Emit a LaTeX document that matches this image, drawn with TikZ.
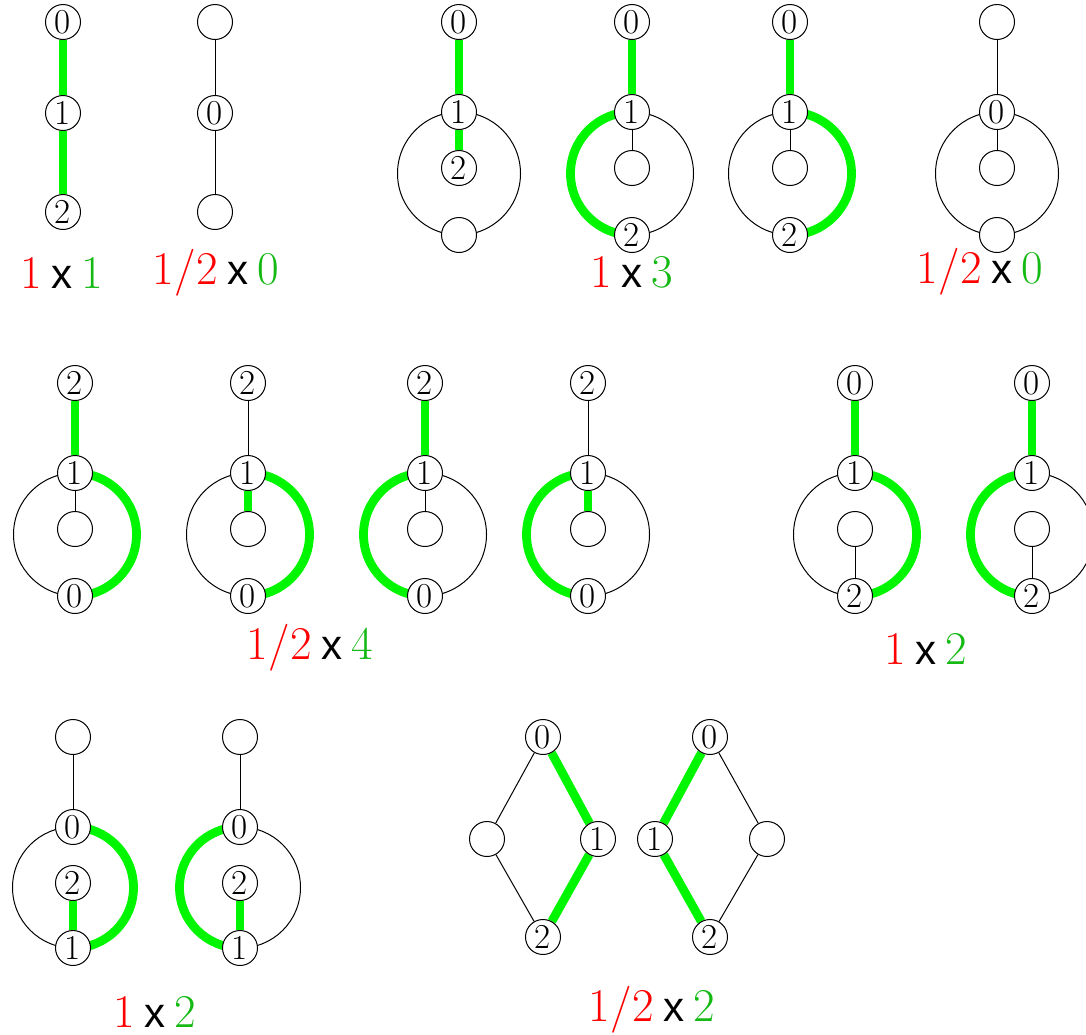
\documentclass[tikz,border=0pt]{standalone}
\usepackage{fontspec}
\newfontfamily\crossfont{Liberation Sans}
\usetikzlibrary{backgrounds}

\definecolor{hotgreen}{RGB}{0,245,0}
\definecolor{wtgreen}{RGB}{20,185,20}

% weight x count
\newcommand{\wt}[2]{\textcolor{red}{#1}\hspace{0.2em}{\crossfont\fontsize{21}{21}\selectfont x}\hspace{0.2em}\textcolor{wtgreen}{#2}}

\tikzset{
  vtx/.style={circle, draw, fill=white, line width=0.5pt, minimum size=17.5pt, inner sep=0pt, font=\fontsize{17.5}{17.5}\selectfont},
  cold/.style={draw=black, line width=0.5pt},
  hot/.style={draw=hotgreen, line width=4.4pt},
  wtlbl/.style={font=\fontsize{23.5}{23.5}\selectfont, inner sep=0pt}
}

\begin{document}
\begin{tikzpicture}[x=0.5pt, y=0.5pt]
  \useasboundingbox (0,0) rectangle (1086,-1034);

  % first row
  \begin{scope}[shift={(63,-22)}]
    \node[vtx] (At) at (0,0)    {0};
    \node[vtx] (Am) at (0,-91)  {1};
    \node[vtx] (Ab) at (0,-190) {2};
    \path (At) edge[hot] (Am) (Am) edge[hot] (Ab);
  \end{scope}
  \begin{scope}[shift={(215,-22)}]
    \node[vtx] (Bt) at (0,0)    {};
    \node[vtx] (Bm) at (0,-91)  {0};
    \node[vtx] (Bb) at (0,-190) {};
    \path (Bt) edge[cold] (Bm) (Bm) edge[cold] (Bb);
  \end{scope}
  \begin{scope}[shift={(459,-22)}]
    \node[vtx] (Ct) at (0,0)    {0};
    \node[vtx] (Cm) at (0,-90)  {1};
    \node[vtx] (Ci) at (0,-146) {2};
    \node[vtx] (Cb) at (0,-213) {};
  \end{scope}
  \begin{scope}[shift={(632,-22)}]
    \node[vtx] (Dt) at (0,0)    {0};
    \node[vtx] (Dm) at (0,-90)  {1};
    \node[vtx] (Di) at (0,-146) {};
    \node[vtx] (Db) at (0,-213) {2};
  \end{scope}
  \begin{scope}[shift={(790,-22)}]
    \node[vtx] (Et) at (0,0)    {0};
    \node[vtx] (Em) at (0,-90)  {1};
    \node[vtx] (Ei) at (0,-146) {};
    \node[vtx] (Eb) at (0,-213) {2};
  \end{scope}
  \begin{scope}[shift={(997,-22)}]
    \node[vtx] (Ft) at (0,0)    {};
    \node[vtx] (Fm) at (0,-90)  {0};
    \node[vtx] (Fi) at (0,-146) {};
    \node[vtx] (Fb) at (0,-213) {};
  \end{scope}

  % second row
  \begin{scope}[shift={(75,-383)}]
    \node[vtx] (Gt) at (0,0)    {2};
    \node[vtx] (Gm) at (0,-90)  {1};
    \node[vtx] (Gi) at (0,-146) {};
    \node[vtx] (Gb) at (0,-213) {0};
  \end{scope}
  \begin{scope}[shift={(248,-383)}]
    \node[vtx] (Ht) at (0,0)    {2};
    \node[vtx] (Hm) at (0,-90)  {1};
    \node[vtx] (Hi) at (0,-146) {};
    \node[vtx] (Hb) at (0,-213) {0};
  \end{scope}
  \begin{scope}[shift={(425,-383)}]
    \node[vtx] (It) at (0,0)    {2};
    \node[vtx] (Im) at (0,-90)  {1};
    \node[vtx] (Ii) at (0,-146) {};
    \node[vtx] (Ib) at (0,-213) {0};
  \end{scope}
  \begin{scope}[shift={(588,-383)}]
    \node[vtx] (Jt) at (0,0)    {2};
    \node[vtx] (Jm) at (0,-90)  {1};
    \node[vtx] (Ji) at (0,-146) {};
    \node[vtx] (Jb) at (0,-213) {0};
  \end{scope}
  \begin{scope}[shift={(855,-383)}]
    \node[vtx] (Kt) at (0,0)    {0};
    \node[vtx] (Km) at (0,-90)  {1};
    \node[vtx] (Ki) at (0,-146) {};
    \node[vtx] (Kb) at (0,-213) {2};
  \end{scope}
  \begin{scope}[shift={(1032,-383)}]
    \node[vtx] (Lt) at (0,0)    {0};
    \node[vtx] (Lm) at (0,-90)  {1};
    \node[vtx] (Li) at (0,-146) {};
    \node[vtx] (Lb) at (0,-213) {2};
  \end{scope}

  % third row
  \begin{scope}[shift={(73,-737)}]
    \node[vtx] (Mt) at (0,0)    {};
    \node[vtx] (Mm) at (0,-90)  {0};
    \node[vtx] (Mi) at (0,-146) {2};
    \node[vtx] (Mb) at (0,-211) {1};
  \end{scope}
  \begin{scope}[shift={(240,-737)}]
    \node[vtx] (Nt) at (0,0)    {};
    \node[vtx] (Nm) at (0,-90)  {0};
    \node[vtx] (Ni) at (0,-146) {2};
    \node[vtx] (Nb) at (0,-211) {1};
  \end{scope}
  \node[vtx] (Pt) at (543,-737) {0};
  \node[vtx] (Pl) at (487,-839) {};
  \node[vtx] (Pr) at (598,-839) {1};
  \node[vtx] (Pb) at (543,-937) {2};
  \node[vtx] (Qt) at (710,-737) {0};
  \node[vtx] (Ql) at (655,-839) {1};
  \node[vtx] (Qr) at (767,-839) {};
  \node[vtx] (Qb) at (710,-937) {2};

  \begin{pgfonlayer}{background}
    % stems
    \path (Ct) edge[hot] (Cm) (Cm) edge[hot] (Ci)
          (Dt) edge[hot] (Dm) (Dm) edge[cold] (Di)
          (Et) edge[hot] (Em) (Em) edge[cold] (Ei)
          (Ft) edge[cold] (Fm) (Fm) edge[cold] (Fi)
          (Gt) edge[hot] (Gm) (Gm) edge[cold] (Gi)
          (Ht) edge[cold] (Hm) (Hm) edge[hot] (Hi)
          (It) edge[hot] (Im) (Im) edge[cold] (Ii)
          (Jt) edge[cold] (Jm) (Jm) edge[hot] (Ji)
          (Kt) edge[hot] (Km) (Ki) edge[cold] (Kb)
          (Lt) edge[hot] (Lm) (Li) edge[cold] (Lb)
          (Mt) edge[cold] (Mm) (Mi) edge[hot] (Mb)
          (Nt) edge[cold] (Nm) (Ni) edge[hot] (Nb);
    % loops: right half, then left half
    \draw[cold] (Cm.center) arc[start angle=90, end angle=-90, radius=61.5];
    \draw[cold] (Cm.center) arc[start angle=90, end angle=270, radius=61.5];
    \draw[cold] (Dm.center) arc[start angle=90, end angle=-90, radius=61.5];
    \draw[hot]  (Dm.center) arc[start angle=90, end angle=270, radius=61.5];
    \draw[hot]  (Em.center) arc[start angle=90, end angle=-90, radius=61.5];
    \draw[cold] (Em.center) arc[start angle=90, end angle=270, radius=61.5];
    \draw[cold] (Fm.center) arc[start angle=90, end angle=-90, radius=61.5];
    \draw[cold] (Fm.center) arc[start angle=90, end angle=270, radius=61.5];
    \draw[hot]  (Gm.center) arc[start angle=90, end angle=-90, radius=61.5];
    \draw[cold] (Gm.center) arc[start angle=90, end angle=270, radius=61.5];
    \draw[hot]  (Hm.center) arc[start angle=90, end angle=-90, radius=61.5];
    \draw[cold] (Hm.center) arc[start angle=90, end angle=270, radius=61.5];
    \draw[cold] (Im.center) arc[start angle=90, end angle=-90, radius=61.5];
    \draw[hot]  (Im.center) arc[start angle=90, end angle=270, radius=61.5];
    \draw[cold] (Jm.center) arc[start angle=90, end angle=-90, radius=61.5];
    \draw[hot]  (Jm.center) arc[start angle=90, end angle=270, radius=61.5];
    \draw[hot]  (Km.center) arc[start angle=90, end angle=-90, radius=61.5];
    \draw[cold] (Km.center) arc[start angle=90, end angle=270, radius=61.5];
    \draw[cold] (Lm.center) arc[start angle=90, end angle=-90, radius=61.5];
    \draw[hot]  (Lm.center) arc[start angle=90, end angle=270, radius=61.5];
    \draw[hot]  (Mm.center) arc[start angle=90, end angle=-90, radius=60.5];
    \draw[cold] (Mm.center) arc[start angle=90, end angle=270, radius=60.5];
    \draw[cold] (Nm.center) arc[start angle=90, end angle=-90, radius=60.5];
    \draw[hot]  (Nm.center) arc[start angle=90, end angle=270, radius=60.5];
    % diamonds
    \path (Pt) edge[cold] (Pl) (Pl) edge[cold] (Pb)
          (Pt) edge[hot] (Pr) (Pr) edge[hot] (Pb)
          (Qt) edge[hot] (Ql) (Ql) edge[hot] (Qb)
          (Qt) edge[cold] (Qr) (Qr) edge[cold] (Qb);
  \end{pgfonlayer}

  % weights
  \node[wtlbl] (wA) at (62,-273)   {\wt{1}{1}};
  \node[wtlbl] (wB) at (216,-273)  {\wt{1/2}{0}};
  \node[wtlbl] (wC) at (632,-272)  {\wt{1}{3}};
  \node[wtlbl] (wF) at (980,-272)  {\wt{1/2}{0}};
  \node[wtlbl] (wG) at (310,-648)  {\wt{1/2}{4}};
  \node[wtlbl] (wK) at (926,-649)  {\wt{1}{2}};
  \node[wtlbl] (wM) at (155,-1012) {\wt{1}{2}};
  \node[wtlbl] (wP) at (652,-1010) {\wt{1/2}{2}};
\end{tikzpicture}
\end{document}
